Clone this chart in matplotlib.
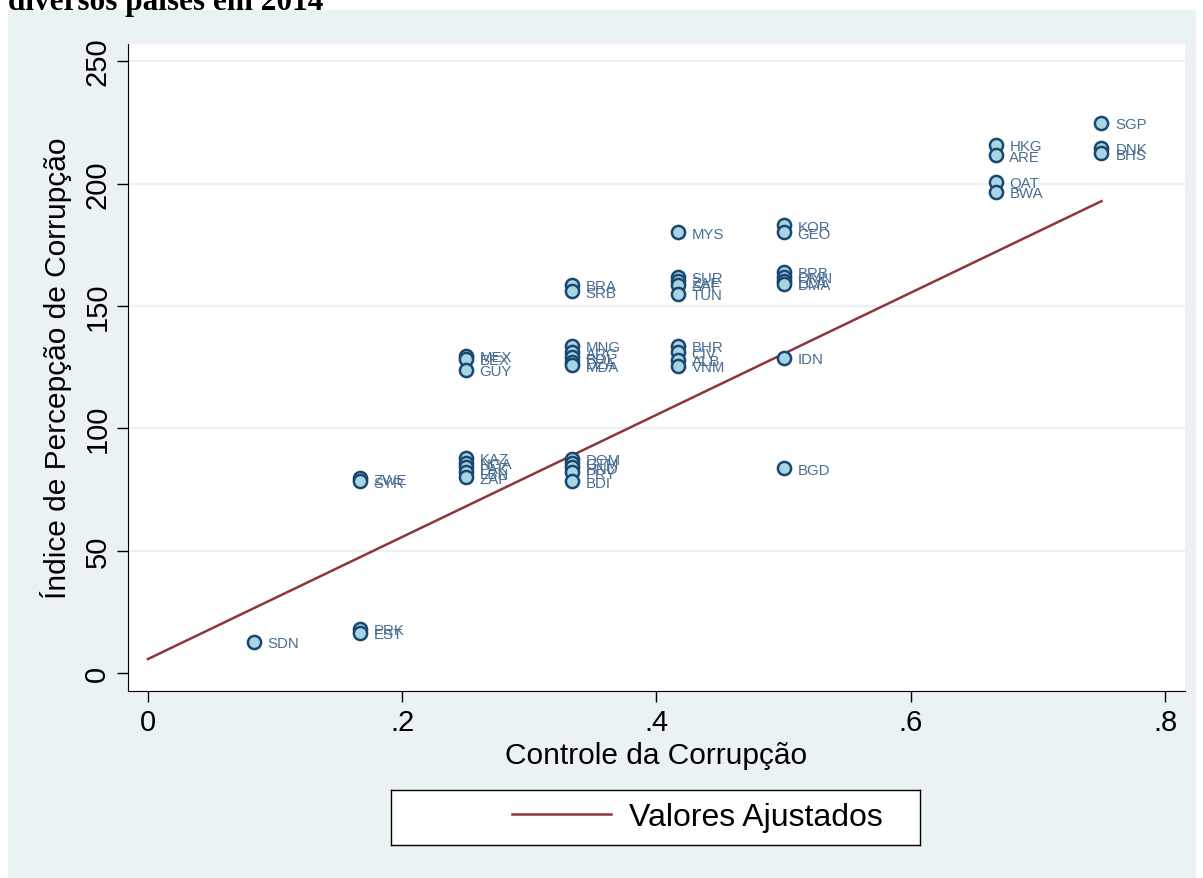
import matplotlib.pyplot as plt
from matplotlib.patches import Rectangle

plt.rcParams['font.family'] = ['Liberation Sans', 'DejaVu Sans']

# dados (controle da corrupcao x indice de percepcao)
controle = [0.0833,
            0.1667, 0.1667, 0.1667, 0.1667,
            0.25, 0.25, 0.25, 0.25, 0.25, 0.25, 0.25, 0.25,
            0.3333, 0.3333, 0.3333, 0.3333, 0.3333, 0.3333, 0.3333,
            0.3333, 0.3333, 0.3333, 0.3333, 0.3333,
            0.4167, 0.4167, 0.4167, 0.4167, 0.4167, 0.4167, 0.4167, 0.4167, 0.4167,
            0.5, 0.5, 0.5, 0.5, 0.5, 0.5, 0.5, 0.5,
            0.6667, 0.6667, 0.6667, 0.6667,
            0.75, 0.75, 0.75]
indice = [12.7,
          18, 16.5, 79.6, 78.4,
          129.5, 128.5, 124, 88, 86, 84, 82, 80,
          158.5, 156, 133.6, 131, 129, 127, 125.8,
          87.4, 86, 84, 82, 78.4,
          180, 161.8, 160, 158.5, 155, 133.6, 131, 128, 125.4,
          183, 180, 164, 162, 160, 159, 128.7, 83.7,
          215.7, 211.6, 200.6, 196.5,
          224.7, 214.5, 212.4]
paises = ['SDN',
          'PRK', 'EST', 'ZWE', 'SYR',
          'MEX', 'BEX', 'GUY', 'KAZ', 'NGA', 'PAK', 'LBN', 'ZAF',
          'BRA', 'SRB', 'MNG', 'ARG', 'BOL', 'DZA', 'MDA',
          'DOM', 'GTM', 'HND', 'PRY', 'BDI',
          'MYS', 'SUR', 'ZAF', 'SAF', 'TUN', 'BHR', 'CIV', 'ALB', 'VNM',
          'KOR', 'GEO', 'BRB', 'OMN', 'LCA', 'DMA', 'IDN', 'BGD',
          'HKG', 'ARE', 'QAT', 'BWA',
          'SGP', 'DNK', 'BHS']

# reta ajustada
ajuste_x = [0.0, 0.75]
ajuste_y = [5.7, 192.8]

navy = '#1a476f'
maroon = '#90353b'
fundo = '#eaf2f3'

fig = plt.figure(figsize=(12.03, 8.79), dpi=100, facecolor='white')
fig.patches.append(Rectangle((8 / 1203, 0), 1188 / 1203, 868 / 879,
                             transform=fig.transFigure, facecolor=fundo,
                             edgecolor='none', zorder=-10))

fig.text(8 / 1203, 1 - 10 / 879, 'diversos países em 2014', ha='left', va='baseline',
         fontsize=22.5, fontweight='bold', family=['Liberation Serif', 'DejaVu Serif'])

ax = fig.add_axes([128 / 1203, 187 / 879, 1057 / 1203, 647 / 879])
ax.set_facecolor('white')

for y in [50, 100, 150, 200, 250]:
    ax.axhline(y, color=fundo, lw=1.6, zorder=1)

ax.scatter(controle, indice, s=90, facecolor='#a8d4e4', edgecolor=navy,
           linewidth=1.8, zorder=3)
for xv, yv, lab in zip(controle, indice, paises):
    ax.annotate(lab, (xv, yv), xytext=(10, -1), textcoords='offset points',
                va='center', ha='left', fontsize=10.8, color='#4a6d92', zorder=4)

ax.plot(ajuste_x, ajuste_y, color=maroon, lw=1.8, zorder=2, label='Valores Ajustados')

ax.set_xlim(-0.0157, 0.8157)
ax.set_ylim(-7.35, 257)
ax.set_xticks([0, 0.2, 0.4, 0.6, 0.8])
ax.set_xticklabels(['0', '.2', '.4', '.6', '.8'])
ax.set_yticks([0, 50, 100, 150, 200, 250])
ax.tick_params(axis='both', labelsize=21, length=8, width=1, direction='out', pad=4)
plt.setp(ax.get_yticklabels(), rotation=90, va='center')

for s in ['top', 'right']:
    ax.spines[s].set_visible(False)

ax.set_xlabel('Controle da Corrupção', fontsize=21.5, labelpad=4)
ax.set_ylabel('Índice de Percepção de Corrupção', fontsize=21.5, labelpad=8)

# caixa da legenda
lax = fig.add_axes([391 / 1203, 1 - 846 / 879, 529 / 1203, 55 / 879])
lax.set_facecolor('white')
lax.set_xticks([])
lax.set_yticks([])
for s in lax.spines.values():
    s.set_linewidth(1)
    s.set_color('black')
h, l = ax.get_legend_handles_labels()
leg = lax.legend(h, l, loc='center left', bbox_to_anchor=((512 - 391) / 529, 0.5),
                 fontsize=23, frameon=False, handlelength=3.1, handletextpad=0.55,
                 borderpad=0, borderaxespad=0)

fig.savefig('out.png', dpi=100, facecolor='white')
